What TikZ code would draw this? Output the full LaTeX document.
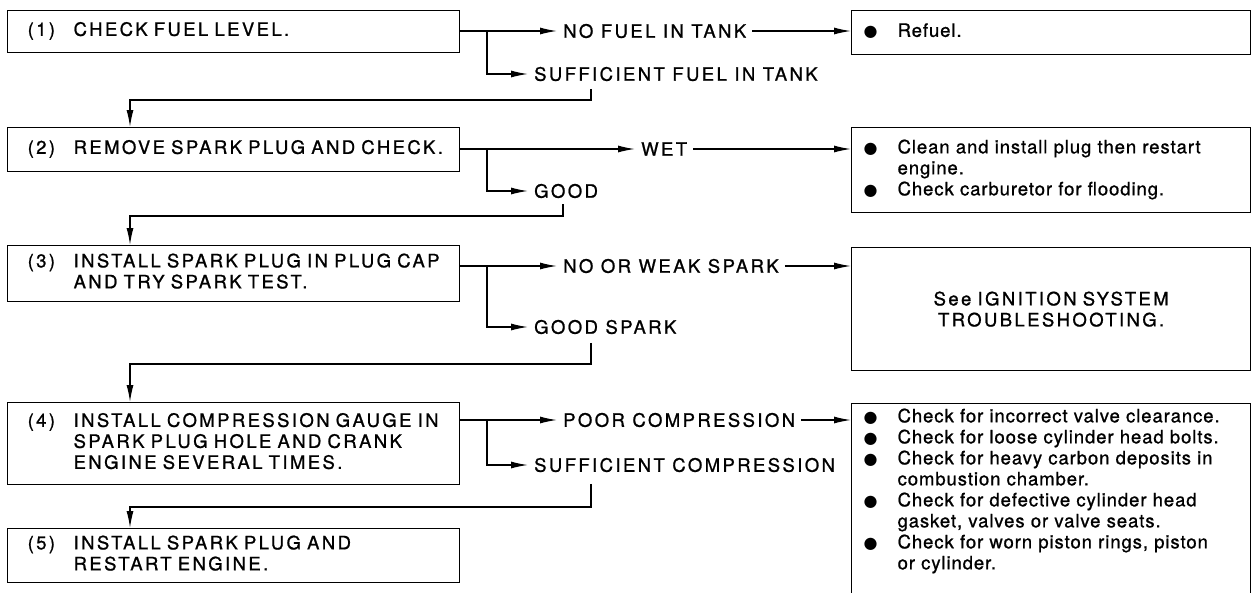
\documentclass[tikz,border=0pt]{standalone}
\usepackage{fontspec}
\setmainfont{TeX Gyre Heros}
\newfontfamily\capfont{TeX Gyre Heros}[LetterSpace=13,FakeBold=1]
\newfontfamily\resfont{TeX Gyre Heros}[LetterSpace=5,FakeBold=1]
\newfontfamily\bulletfont{DejaVu Sans}
\usetikzlibrary{arrows.meta}

\newcommand{\blt}{{\bulletfont\fontsize{16}{16}\selectfont ●}}
\newcommand{\stepno}[2]{\begin{tabular}{@{}p{46pt}@{}l@{}}#1&#2\end{tabular}}
\newcommand{\bullets}[1]{\begin{tabular}{@{}p{34pt}@{}l@{}}#1\end{tabular}}
\newcommand{\nudge}[2]{\raisebox{#1}[\height][\depth]{#2}}

\begin{document}
\begin{tikzpicture}[x=1pt, y=-1pt,
  stepbox/.style={draw, line width=1.3pt, anchor=north west, text width=412pt,
    inner xsep=20pt, inner ysep=0pt, align=left, font=\capfont\fontsize{18.5}{21}\selectfont},
  resbox/.style={draw, line width=1.3pt, anchor=north west, text width=375pt,
    inner xsep=12pt, inner ysep=0pt, align=left, font=\resfont\fontsize{18.5}{21}\selectfont},
  lbl/.style={anchor=west, inner xsep=6pt, inner ysep=0pt, font=\capfont\fontsize{18.5}{21}\selectfont},
  conn/.style={line width=1.3pt},
  arr/.style={conn, -{Latex[length=17pt,width=7pt]}}]

  \fill[white] (0,0) rectangle (1258,592);
  \useasboundingbox (0,0) rectangle (1258,592);

  % steps
  \node[stepbox, minimum height=42pt] (b1) at (7,10) {\stepno{(1)}{CHECK FUEL LEVEL.}};
  \node[stepbox, minimum height=44pt] (b2) at (7,127) {\stepno{(2)}{REMOVE SPARK PLUG AND CHECK.}};
  \node[stepbox, minimum height=56pt] (b3) at (7,245) {\stepno{(3)}{INSTALL SPARK PLUG IN PLUG CAP\\&AND TRY SPARK TEST.}};
  \node[stepbox, minimum height=82pt] (b4) at (7,402) {\stepno{(4)}{INSTALL COMPRESSION GAUGE IN\\&SPARK PLUG HOLE AND CRANK\\&ENGINE SEVERAL TIMES.}};
  \node[stepbox, minimum height=54pt] (b5) at (7,528) {\stepno{(5)}{INSTALL SPARK PLUG AND\\&RESTART ENGINE.}};

  % results
  \node[resbox, minimum height=44pt] (r1) at (851,10) {\bullets{\blt&Refuel.}};
  \node[resbox, minimum height=85pt] (r2) at (851,127) {\bullets{\blt&Clean and install plug then restart\\&engine.\\\blt&Check carburetor for flooding.}};
  \node[resbox, minimum height=123pt, align=center, font=\capfont\fontsize{18.5}{21}\selectfont] (r3) at (851,247) {See IGNITION SYSTEM\\TROUBLESHOOTING.};
  \node[resbox, minimum height=200pt] (r4) at (851,403) {\nudge{12pt}{\bullets{\blt&Check for incorrect valve clearance.\\
    \blt&Check for loose cylinder head bolts.\\
    \blt&Check for heavy carbon deposits in\\&combustion chamber.\\
    \blt&Check for defective cylinder head\\&gasket, valves or valve seats.\\
    \blt&Check for worn piston rings, piston\\&or cylinder.}}};

  % answers
  \node[lbl] (n1) at (557,31) {NO FUEL IN TANK};
  \node[lbl] (s1) at (528,74) {SUFFICIENT FUEL IN TANK};
  \node[lbl] (n2) at (635,149) {WET};
  \node[lbl] (g2) at (528,191) {GOOD};
  \node[lbl] (n3) at (557,266) {NO OR WEAK SPARK};
  \node[lbl] (g3) at (528,327) {GOOD SPARK};
  \node[lbl] (n4) at (557,420) {POOR COMPRESSION};
  \node[lbl] (s4) at (528,465) {SUFFICIENT COMPRESSION};

  \coordinate (j1) at (487,31);
  \coordinate (j2) at (487,149);
  \coordinate (j3) at (487,266);
  \coordinate (j4) at (487,420);

  % row 1
  \draw[arr] (b1.east |- n1.west) -- (n1.west);
  \draw[arr] (j1) |- (s1.west);
  \draw[arr] (n1.east) -- (n1.east -| r1.west);
  \draw[arr] ([xshift=63pt,yshift=-7.5pt]s1.south west) |- ([xshift=123pt,yshift=27pt]b2.north west) -- ([xshift=123pt]b2.north west);

  % row 2
  \draw[arr] (b2.east |- n2.west) -- (n2.west);
  \draw[arr] (j2) |- (g2.west);
  \draw[arr] (n2.east) -- (n2.east -| r2.west);
  \draw[arr] ([xshift=35pt,yshift=-6pt]g2.south west) |- ([xshift=123pt,yshift=29pt]b3.north west) -- ([xshift=123pt]b3.north west);

  % row 3
  \draw[arr] (b3.east |- n3.west) -- (n3.west);
  \draw[arr] (j3) |- (g3.west);
  \draw[arr] (n3.east) -- (n3.east -| r3.west);
  \draw[arr] ([xshift=63pt,yshift=-8.5pt]g3.south west) |- ([xshift=123pt,yshift=38pt]b4.north west) -- ([xshift=123pt]b4.north west);

  % row 4
  \draw[arr] (b4.east |- n4.west) -- (n4.west);
  \draw[arr] (j4) |- (s4.west);
  \draw[arr] (n4.east) -- (n4.east -| r4.west);
  \draw[arr] ([xshift=63pt,yshift=-11.5pt]s4.south west) |- ([xshift=123pt,yshift=21pt]b5.north west) -- ([xshift=123pt]b5.north west);
\end{tikzpicture}
\end{document}
